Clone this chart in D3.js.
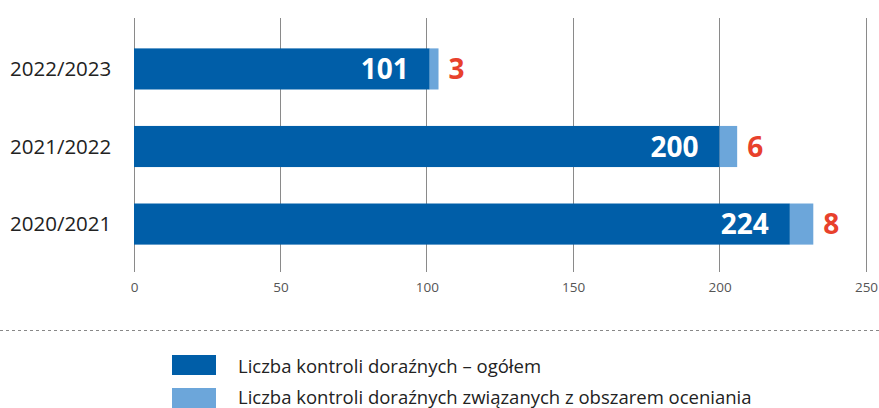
<!DOCTYPE html>
<html><head><meta charset="utf-8">
<script src="https://cdn.jsdelivr.net/npm/d3@7"></script>
<style>body{margin:0;background:#fff}svg{display:block}</style>
</head><body>
<svg id="c" width="879" height="408"></svg>
<script>
const categories = ["2022/2023", "2021/2022", "2020/2021"];
const totalValues = [101, 200, 224];
const areaValues = [3, 6, 8];
const tickValues = [0, 50, 100, 150, 200, 250];
const legendLabels = ["Liczba kontroli doraźnych – ogółem", "Liczba kontroli doraźnych związanych z obszarem oceniania"];
const colors = ["#005ea8", "#6ca6da"];

const svg = d3.select("#c");
const font = "'Open Sans', sans-serif";
const x = d3.scaleLinear().domain([0, 250]).range([134, 866]);
const y = d3.scaleBand().domain(categories).range([29, 264]).paddingInner(0.47).paddingOuter(0.25);

// grid
svg.append("g").selectAll("line").data(tickValues).join("line")
  .attr("x1", d => x(d)).attr("x2", d => x(d)).attr("y1", 18).attr("y2", 272)
  .attr("stroke", "#8a8a8a").attr("stroke-width", 1).attr("shape-rendering", "crispEdges");

// axis labels
const axis = d3.axisBottom(x).tickValues(tickValues).tickSize(0).tickPadding(0);
const ag = svg.append("g").attr("transform", "translate(0,282)").call(axis);
ag.select(".domain").remove();
ag.selectAll("text").attr("font-family", font).attr("font-size", 13.5).attr("fill", "#555").attr("dy", "0.71em");

// bars
const rows = categories.map((c, i) => ({c, t: totalValues[i], a: areaValues[i]}));
const g = svg.append("g");
g.selectAll(".t").data(rows).join("rect")
  .attr("x", x(0)).attr("y", d => y(d.c)).attr("width", d => x(d.t) - x(0)).attr("height", y.bandwidth())
  .attr("fill", colors[0]);
g.selectAll(".a").data(rows).join("rect")
  .attr("x", d => x(d.t)).attr("y", d => y(d.c)).attr("width", d => x(d.t + d.a) - x(d.t)).attr("height", y.bandwidth())
  .attr("fill", colors[1]);
g.selectAll(".tl").data(rows).join("text")
  .attr("x", d => x(d.t) - 21).attr("y", d => y(d.c) + y.bandwidth() / 2).attr("dy", "0.36em")
  .attr("text-anchor", "end").attr("font-family", font).attr("font-weight", 700).attr("font-size", 28)
  .attr("fill", "#fff").text(d => d.t);
g.selectAll(".al").data(rows).join("text")
  .attr("x", d => x(d.t + d.a) + 10).attr("y", d => y(d.c) + y.bandwidth() / 2).attr("dy", "0.36em")
  .attr("font-family", font).attr("font-weight", 700).attr("font-size", 28)
  .attr("fill", "#e8412c").text(d => d.a);
// categories
g.selectAll(".cl").data(rows).join("text")
  .attr("x", 10).attr("y", d => y(d.c) + y.bandwidth() / 2).attr("dy", "0.36em")
  .attr("font-family", font).attr("font-size", 20.5).attr("fill", "#222").text(d => d.c);

// dashed separator
svg.append("line").attr("x1", 0).attr("x2", 879).attr("y1", 330.5).attr("y2", 330.5)
  .attr("stroke", "#888").attr("stroke-dasharray", "3,3");

// legend
const lg = svg.append("g").selectAll("g").data(legendLabels).join("g")
  .attr("transform", (d, i) => `translate(172,${355 + i * 33})`);
lg.append("rect").attr("width", 44).attr("height", 20).attr("fill", (d, i) => colors[i]);
lg.append("text").attr("x", 66).attr("y", (d, i) => 18 - i * 2)
  .attr("font-family", font).attr("font-size", 18.5).attr("fill", "#222").text(d => d);
</script>
</body></html>
